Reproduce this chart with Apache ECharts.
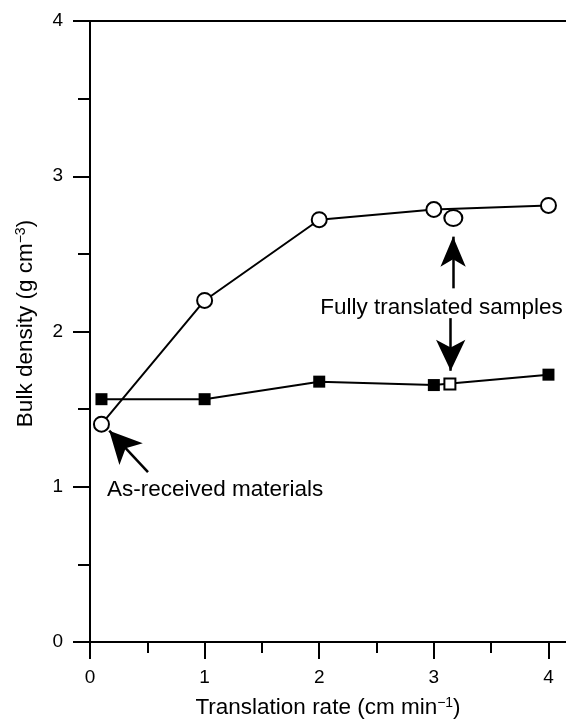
<!DOCTYPE html>
<html>
<head>
<meta charset="utf-8">
<script src="https://cdn.jsdelivr.net/npm/echarts@6/dist/echarts.min.js"></script>
<style>
html,body{margin:0;padding:0;background:#fff;}
#chart{width:566px;height:725px;}
</style>
</head>
<body>
<div id="chart"></div>
<script>
// ---- data ----
const xTickLabels = [0, 1, 2, 3, 4];
const xMinorTicks = [0.5, 1.5, 2.5, 3.5];
const translatedRate = [0.1, 1, 2, 3, 4];
const densityCircles = [1.403, 2.200, 2.72, 2.786, 2.812];
const densitySquares = [1.564, 1.564, 1.677, 1.655, 1.722];
const fullyCircle = [3.17, 2.731];
const fullySquare = [3.14, 1.662];
// annotation arrows: [tailX, tailY, tipX, tipY]
const arrowAsReceived = [0.506, 1.094, 0.168, 1.361];
const arrowUp = [3.168, 2.278, 3.168, 2.611];
const arrowDown = [3.147, 2.086, 3.147, 1.747];
const textFully = [3.067, 2.150];
const textAsReceived = [1.091, 0.979];

const FONT = '"Liberation Sans", Arial, Helvetica, sans-serif';
const circleData = translatedRate.map((x, i) => [x, densityCircles[i]]);
const squareData = translatedRate.map((x, i) => [x, densitySquares[i]]);

function arrow(a, size) {
  return [
    { coord: [a[0], a[1]], symbol: 'none' },
    { coord: [a[2], a[3]], symbol: 'arrow', symbolSize: size }
  ];
}

const chart = echarts.init(document.getElementById('chart'), null, { renderer: 'canvas' });
const supRich = { sup: { fontSize: 14, lineHeight: 14, verticalAlign: 'top', fontFamily: FONT, color: '#000' } };

chart.setOption({
  animation: false,
  backgroundColor: '#fff',
  textStyle: { fontFamily: FONT, color: '#000' },
  grid: { left: 90, right: 0, top: 21, bottom: 79, containLabel: false },
  xAxis: [
    {
      type: 'value', min: 0, max: 4.153, position: 'bottom',
      axisLine: { show: true, onZero: false, lineStyle: { color: '#000', width: 2 } },
      axisTick: { show: true, customValues: xTickLabels, length: 17, lineStyle: { color: '#000', width: 2 } },
      axisLabel: { customValues: xTickLabels, margin: 26, fontSize: 19, color: '#000', fontFamily: FONT },
      splitLine: { show: false },
      name: 'Translation rate (cm min{sup|−1})',
      nameLocation: 'middle', nameGap: 54,
      nameTextStyle: { fontSize: 22.5, lineHeight: 24, color: '#000', fontFamily: FONT, rich: supRich }
    },
    {
      type: 'value', min: 0, max: 4.153, position: 'bottom',
      axisLine: { show: false, onZero: false },
      axisTick: { show: true, customValues: xMinorTicks, length: 11, lineStyle: { color: '#000', width: 2 } },
      axisLabel: { show: false },
      splitLine: { show: false }
    },
    {
      type: 'value', min: 0, max: 4.153, position: 'top',
      axisLine: { show: true, onZero: false, lineStyle: { color: '#000', width: 2 } },
      axisTick: { show: false },
      axisLabel: { show: false },
      splitLine: { show: false }
    }
  ],
  yAxis: {
    type: 'value', min: 0, max: 4, interval: 1,
    axisLine: { show: true, onZero: false, lineStyle: { color: '#000', width: 2 } },
    axisTick: { show: true, length: 17, lineStyle: { color: '#000', width: 2 } },
    minorTick: { show: true, splitNumber: 2, length: 12, lineStyle: { color: '#000', width: 2 } },
    axisLabel: { margin: 27, fontSize: 19, color: '#000', fontFamily: FONT },
    splitLine: { show: false },
    minorSplitLine: { show: false },
    name: 'Bulk density (g cm{sup|−3})',
    nameLocation: 'middle', nameGap: 52,
    nameTextStyle: { fontSize: 22.5, lineHeight: 24, color: '#000', fontFamily: FONT, rich: supRich, padding: [0, 0, 0, 16] }
  },
  series: [
    {
      type: 'line', data: squareData, z: 3,
      symbol: 'rect', symbolSize: 12,
      itemStyle: { color: '#000' },
      lineStyle: { color: '#000', width: 2 },
      silent: true
    },
    {
      type: 'scatter', data: [fullySquare], z: 4,
      symbol: 'rect', symbolSize: 11,
      itemStyle: { color: '#fff', borderColor: '#000', borderWidth: 2, opacity: 1 },
      silent: true
    },
    {
      type: 'line', data: circleData, z: 5,
      symbol: 'circle', symbolSize: 15,
      itemStyle: { color: '#fff', borderColor: '#000', borderWidth: 2 },
      lineStyle: { color: '#000', width: 2 },
      silent: true,
      markLine: {
        silent: true,
        animation: false,
        label: { show: false },
        lineStyle: { color: '#000', width: 2.5, type: 'solid' },
        itemStyle: { color: '#000' },
        emphasis: { disabled: true },
        data: [
          arrow(arrowAsReceived, [24, 32]),
          arrow(arrowUp, [19, 30]),
          arrow(arrowDown, [22, 31])
        ]
      },
      markPoint: {
        silent: true,
        symbol: 'circle', symbolSize: 1,
        itemStyle: { color: 'rgba(0,0,0,0)' },
        label: { show: true, position: 'inside', fontSize: 22.5, color: '#000', fontFamily: FONT, formatter: '{b}' },
        data: [
          { name: 'Fully translated samples', coord: textFully },
          { name: 'As-received materials', coord: textAsReceived }
        ]
      }
    },
    {
      type: 'scatter', data: [fullyCircle], z: 6,
      symbol: 'circle', symbolSize: [18, 16],
      itemStyle: { color: '#fff', borderColor: '#000', borderWidth: 2, opacity: 1 },
      silent: true
    }
  ]
});
</script>
</body>
</html>
